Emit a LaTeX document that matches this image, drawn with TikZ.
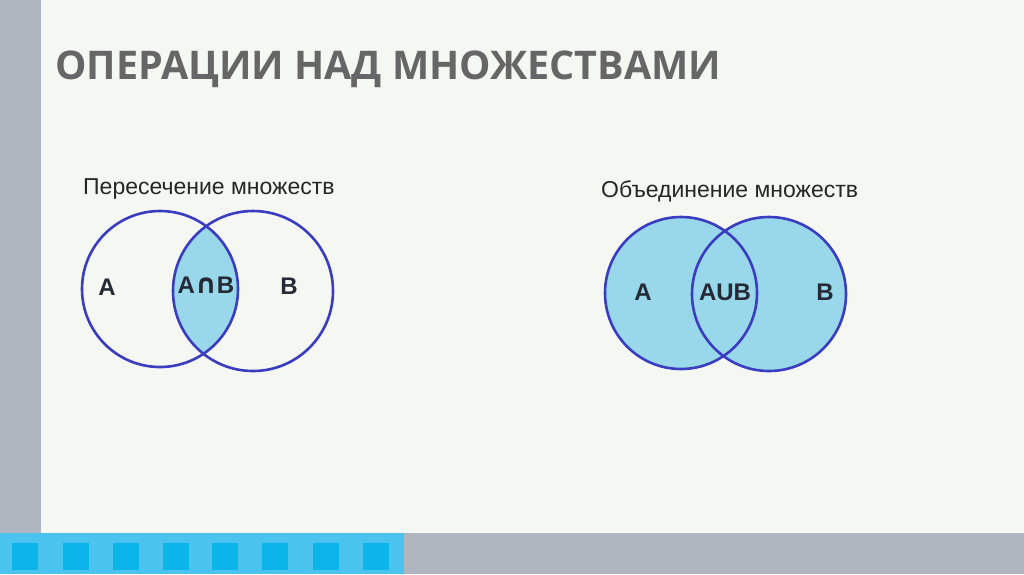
\documentclass[tikz,border=0pt]{standalone}
\usepackage{fontspec}
\setmainfont{Liberation Sans}
\newfontfamily\titlefont{Open Sans}
\newfontfamily\symfont{DejaVu Sans}
\definecolor{slidebg}{HTML}{F5F7F3}
\definecolor{sidegray}{HTML}{B0B6C0}
\definecolor{barblue}{HTML}{4BC3EF}
\definecolor{sqblue}{HTML}{0BB5EA}
\definecolor{ringblue}{HTML}{3A3DC0}
\definecolor{fillblue}{HTML}{98D8EA}
\definecolor{titlegray}{HTML}{666666}
\definecolor{labeldark}{HTML}{262A36}
\begin{document}
\begin{tikzpicture}[x=1pt,y=-1pt,
  ring/.style={draw=ringblue,line width=2.6pt},
  setlabel/.style={font=\bfseries\fontsize{24}{24}\selectfont,text=labeldark,inner sep=0pt},
  caption/.style={font=\fontsize{23}{23}\selectfont,text=black!85,anchor=base west,inner sep=0pt},
  sq/.style={fill=sqblue,draw=none}]
\useasboundingbox (0,0) rectangle (1024,574);
\fill[slidebg] (0,0) rectangle (1024,574);
\fill[sidegray] (0,0) rectangle (41,533);
\fill[sidegray] (404,533) rectangle (1024,574);
\fill[barblue] (0,533) rectangle (404,574);
\foreach \xx in {12,63,113,163,212,262,313,363}
  \fill[sq] (\xx,543) rectangle ++(26,27);
\node[anchor=base west,inner sep=0pt,text=titlegray,font=\titlefont\bfseries\fontsize{39.5}{39.5}\selectfont] (title) at (55,79) {ОПЕРАЦИИ НАД МНОЖЕСТВАМИ};
% intersection
\node[caption] (cap1) at (83,194) {Пересечение множеств};
\coordinate (A1) at (160,289);
\coordinate (B1) at (253,291);
\begin{scope}
  \clip (A1) circle (78);
  \fill[fillblue] (B1) circle (80);
\end{scope}
\draw[ring] (A1) circle (78);
\draw[ring] (B1) circle (80);
\node[setlabel] (la1) at (107,287) {A};
\node[setlabel] (lab1) at (206,285) {A{\symfont\bfseries\fontsize{27}{27}\selectfont ∩}B};
\node[setlabel] (lb1) at (289,286) {B};
% union
\node[caption] (cap2) at (601,197) {Объединение множеств};
\coordinate (A2) at (681,293);
\coordinate (B2) at (769,294);
\fill[fillblue] (A2) circle (76);
\fill[fillblue] (B2) circle (77);
\draw[ring] (A2) circle (76);
\draw[ring] (B2) circle (77);
\node[setlabel] (la2) at (643,292) {A};
\node[setlabel] (lab2) at (725,292) {AUB};
\node[setlabel] (lb2) at (825,292) {B};
\end{tikzpicture}
\end{document}
